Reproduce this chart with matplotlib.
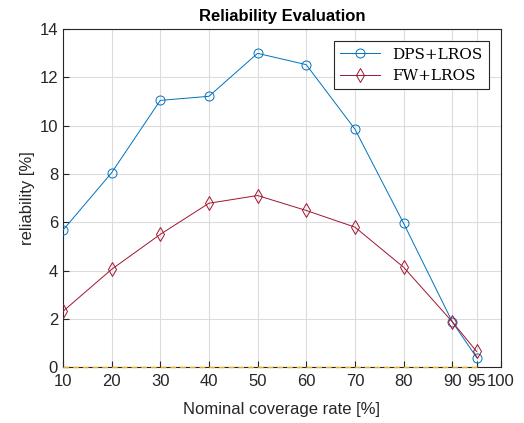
import matplotlib.pyplot as plt
import numpy as np

# coverage rates and reliability values
coverage = [10, 20, 30, 40, 50, 60, 70, 80, 90, 95]
dps_lros = [5.67, 8.05, 11.05, 11.22, 13.0, 12.53, 9.86, 5.96, 1.88, 0.4]
fw_lros = [2.31, 4.05, 5.5, 6.79, 7.11, 6.49, 5.8, 4.14, 1.88, 0.65]
zero_line = [0, 0, 0, 0, 0, 0, 0, 0, 0, 0]
x_ticks = [10, 20, 30, 40, 50, 60, 70, 80, 90, 95, 100]

plt.rcParams['font.family'] = ['Liberation Sans', 'DejaVu Sans']

fig = plt.figure(figsize=(5.24, 4.23), dpi=100)
ax = fig.add_axes([0.120, 0.132, 0.836, 0.799])

# dashed baseline sits on top of the axis
ax.plot(coverage, zero_line, '--', color='#EDB120', lw=1.0, dashes=(4, 3),
        zorder=4, clip_on=False)
ax.plot(coverage, dps_lros, '-o', color='#0072BD', lw=0.7, ms=6.5, mfc='none',
        mew=0.7, label='DPS+LROS', zorder=3)
ax.plot(coverage, fw_lros, '-d', color='#A2142F', lw=0.7, ms=7, mfc='none',
        mew=0.7, label='FW+LROS', zorder=3)

ax.set_xlim(10, 100)
ax.set_ylim(0, 14)
ax.set_xticks(x_ticks)
ax.set_yticks(np.arange(0, 15, 2))
ax.tick_params(direction='in', labelsize=12, colors='#262626', length=4, width=0.8)
ax.tick_params(axis='x', pad=5)
ax.grid(True, color='#dcdcdc', lw=0.8)
ax.set_axisbelow(True)
for s in ax.spines.values():
    s.set_color('#262626')
    s.set_linewidth(0.8)

ax.set_title('Reliability Evaluation', fontsize=12, fontweight='bold', pad=6)
ax.set_xlabel('Nominal coverage rate [%]', fontsize=12, color='#262626', labelpad=9)
ax.set_ylabel('reliability [%]', fontsize=12, color='#262626', labelpad=3)

leg = ax.legend(loc='upper right', prop={'family': 'DejaVu Serif', 'size': 11},
                fancybox=False, edgecolor='#262626', framealpha=1,
                borderaxespad=0.8, handlelength=2.6)
leg.get_frame().set_linewidth(0.8)

fig.savefig('out.png', dpi=100)
